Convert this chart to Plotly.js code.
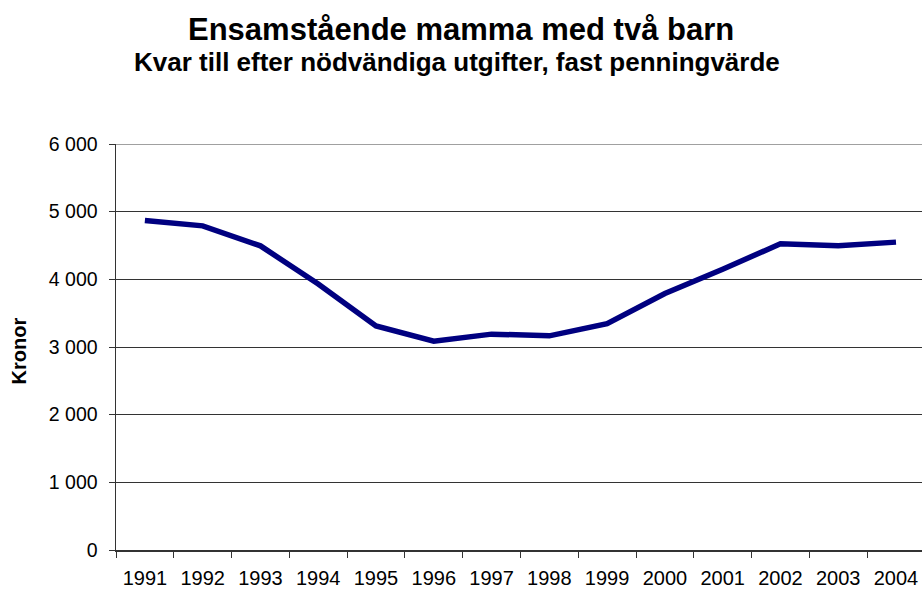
<!DOCTYPE html>
<html>
<head>
<meta charset="utf-8">
<script src="https://cdn.plot.ly/plotly-3.0.1.min.js"></script>
<style>html,body{margin:0;padding:0;background:#fff;}#chart{width:922px;height:590px;}</style>
</head>
<body>
<div id="chart"></div>
<script>
const years = ["1991","1992","1993","1994","1995","1996","1997","1998","1999","2000","2001","2002","2003","2004"];
const kronor = [4870, 4790, 4495, 3930, 3310, 3085, 3190, 3165, 3345, 3790, 4150, 4525, 4495, 4550];
const yTicks = [0, 1000, 2000, 3000, 4000, 5000, 6000];

const FONT = "Liberation Sans, Arial, sans-serif";

const trace = {
  x: years,
  y: kronor,
  type: "scatter",
  mode: "lines",
  line: {color: "#000080", width: 5.5},
  hoverinfo: "x+y"
};

const layout = {
  width: 922,
  height: 590,
  margin: {l: 116, r: 0, t: 144, b: 40},
  paper_bgcolor: "#ffffff",
  plot_bgcolor: "#ffffff",
  separators: ". ",
  showlegend: false,
  font: {family: FONT, color: "#000", size: 16},
  xaxis: {
    type: "category",
    range: [-0.5, 13.45],
    showline: true,
    linecolor: "#333",
    linewidth: 1.5,
    ticks: "outside",
    tickson: "boundaries",
    ticklen: 6,
    tickcolor: "#333",
    tickwidth: 1,
    ticklabelstandoff: 9,
    showgrid: false,
    tickfont: {family: FONT, size: 20, color: "#000"},
    fixedrange: true
  },
  yaxis: {
    range: [0, 6000],
    tickvals: yTicks,
    tickformat: ",d",
    showline: true,
    linecolor: "#333",
    linewidth: 1.5,
    ticks: "outside",
    ticklen: 6,
    tickcolor: "#333",
    ticklabelstandoff: 7,
    showgrid: true,
    gridcolor: "#333",
    gridwidth: 1,
    zeroline: false,
    tickfont: {family: FONT, size: 19.5, color: "#000"},
    fixedrange: true
  },
  shapes: [
    {type: "line", xref: "paper", yref: "y", x0: 0, x1: 1, y0: 6000, y1: 6000,
     line: {color: "#808080", width: 1.5}}
  ],
  annotations: [
    {text: "<b>Ensamstående mamma med två barn</b>", xref: "paper", yref: "paper",
     x: (461 - 116) / 806, y: 1.283, xanchor: "center", yanchor: "middle", showarrow: false,
     font: {family: FONT, size: 31, color: "#000"}},
    {text: "<b>Kvar till efter nödvändiga utgifter, fast penningvärde</b>", xref: "paper", yref: "paper",
     x: (457 - 116) / 806, y: 1.202, xanchor: "center", yanchor: "middle", showarrow: false,
     font: {family: FONT, size: 26, color: "#000"}},
    {text: "<b>Kronor</b>", xref: "paper", yref: "paper",
     x: (18.5 - 116) / 806, y: (550 - 351) / 406, xanchor: "center", yanchor: "middle", showarrow: false,
     textangle: -90, font: {family: FONT, size: 20, color: "#000"}}
  ]
};

Plotly.newPlot("chart", [trace], layout, {displayModeBar: false, staticPlot: true});
</script>
</body>
</html>
